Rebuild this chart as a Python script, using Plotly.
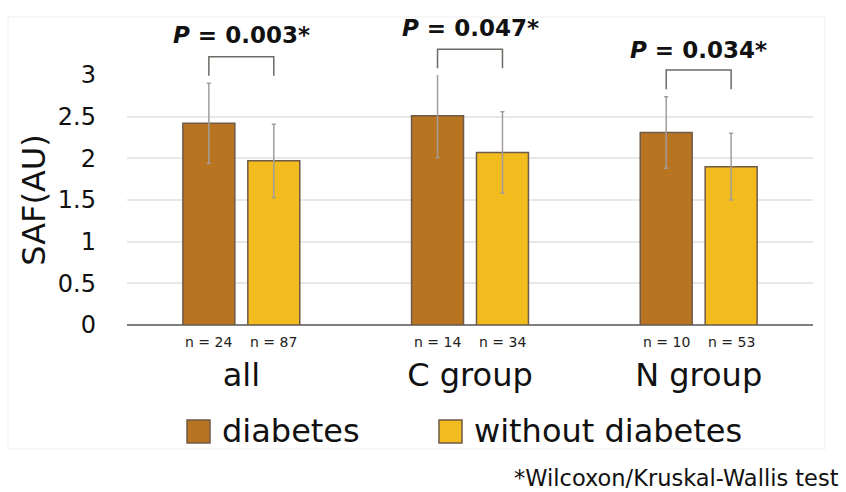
import plotly.graph_objects as go

# Data
groups = ["all", "C group", "N group"]
diabetes_mean = [2.42, 2.51, 2.31]
diabetes_sd = [0.48, 0.50, 0.43]
nodiab_mean = [1.97, 2.07, 1.90]
nodiab_sd = [0.44, 0.49, 0.40]
n_diabetes = [24, 14, 10]
n_nodiab = [87, 34, 53]
p_labels = ["0.003", "0.047", "0.034"]
p_text_y = [3.48, 3.56, 3.30]
bracket_top = [3.22, 3.31, 3.06]
bracket_leg = [2.99, 3.08, 2.83]
y_ticks = [0, 0.5, 1, 1.5, 2, 2.5, 3]
series_names = ["diabetes", "without diabetes"]

# Styling
W, H = 846, 492
ML, MR, MT, MB = 127, 33, 75, 167
PW, PH = W - ML - MR, H - MT - MB
Y_MAX = 3.0
BARGAP, GROUPGAP = 0.432, 0.2
C_DIAB = "#B87420"
C_NODIAB = "#F3BC1E"
EDGE = "#6E5A48"
ERR = "#A39D99"
FONT = "DejaVu Sans"
TXT = "#111111"

def px_x(px):
    return (px - ML) / PW

def px_y(py):
    return (H - MB - py) / PH

def cat_x(pos):
    # category position (index units) -> paper fraction
    return (pos + 0.5) / len(groups)

def val_y(v):
    # y value -> paper fraction
    return v / Y_MAX

fig = go.Figure()
for name, mean, sd, color in [
    (series_names[0], diabetes_mean, diabetes_sd, C_DIAB),
    (series_names[1], nodiab_mean, nodiab_sd, C_NODIAB),
]:
    fig.add_trace(go.Bar(
        x=groups, y=mean, name=name,
        marker=dict(color=color, line=dict(color=EDGE, width=1.5)),
        error_y=dict(type="data", array=sd, visible=True,
                     color=ERR, thickness=1.5, width=2),
        cliponaxis=False, showlegend=False,
    ))

# Offset of each bar centre from its category centre
off = (1 - BARGAP) / 4

annotations = []
shapes = []
for i in range(len(groups)):
    xl, xr = cat_x(i - off), cat_x(i + off)
    yt, yl = val_y(bracket_top[i]), val_y(bracket_leg[i])
    # significance bracket
    shapes.append(dict(
        type="path", xref="paper", yref="paper",
        path=f"M {xl},{yl} L {xl},{yt} L {xr},{yt} L {xr},{yl}",
        line=dict(color="#6E6A66", width=1.5),
    ))
    annotations.append(dict(
        x=cat_x(i), y=val_y(p_text_y[i]), xref="paper", yref="paper",
        showarrow=False, text=f"<b><i>P</i> = {p_labels[i]}*</b>",
        font=dict(family=FONT, size=23, color=TXT),
        xanchor="center", yanchor="middle",
    ))
    for xx, n in [(xl, n_diabetes[i]), (xr, n_nodiab[i])]:
        annotations.append(dict(
            x=xx, y=0, xref="paper", yref="paper", showarrow=False,
            text=f"n = {n}", xanchor="center", yanchor="top", yshift=-7,
            font=dict(family=FONT, size=14, color="#222222"),
        ))

# Legend drawn as swatches and labels below the axis
legend_items = [
    (187, C_DIAB, series_names[0]),
    (439, C_NODIAB, series_names[1]),
]
for x0, color, label in legend_items:
    shapes.append(dict(
        type="rect", xref="paper", yref="paper",
        x0=px_x(x0), x1=px_x(x0 + 23), y0=px_y(443), y1=px_y(420),
        fillcolor=color, line=dict(color=EDGE, width=1.5),
    ))
    annotations.append(dict(
        x=px_x(x0 + 33), y=px_y(431), xref="paper", yref="paper",
        showarrow=False, xanchor="left", yanchor="middle",
        text=label, font=dict(family=FONT, size=32, color=TXT),
    ))

# Chart frame
shapes.append(dict(
    type="rect", xref="paper", yref="paper", layer="below",
    x0=px_x(8), x1=px_x(825), y0=px_y(449), y1=px_y(17),
    line=dict(color="#EFEFEF", width=1),
))

annotations.append(dict(
    x=px_x(841), y=px_y(478), xref="paper", yref="paper",
    showarrow=False, xanchor="right", yanchor="middle",
    text="*Wilcoxon/Kruskal-Wallis test",
    font=dict(family=FONT, size=22.5, color=TXT),
))

fig.update_layout(
    width=W, height=H,
    margin=dict(l=ML, r=MR, t=MT, b=MB),
    paper_bgcolor="white", plot_bgcolor="white",
    barmode="group", bargap=BARGAP, bargroupgap=GROUPGAP,
    font=dict(family=FONT, color=TXT),
    shapes=shapes, annotations=annotations,
    showlegend=False,
)
fig.update_xaxes(
    showgrid=False, showline=False, zeroline=False, ticks="",
    tickfont=dict(size=32, family=FONT, color=TXT),
    ticklabelstandoff=28,
)
fig.update_yaxes(
    range=[0, Y_MAX], tickvals=y_ticks, ticktext=[f"{v:g}" for v in y_ticks],
    showgrid=True, gridcolor="#E8E8E8", gridwidth=1.5,
    zeroline=True, zerolinecolor="#7F7F7F", zerolinewidth=2,
    showline=False, ticks="",
    tickfont=dict(size=24, family=FONT, color=TXT),
    ticklabelstandoff=30,
    title=dict(text="SAF(AU)", font=dict(size=32, family=FONT, color=TXT),
               standoff=2),
)

fig.write_html("out.html")
